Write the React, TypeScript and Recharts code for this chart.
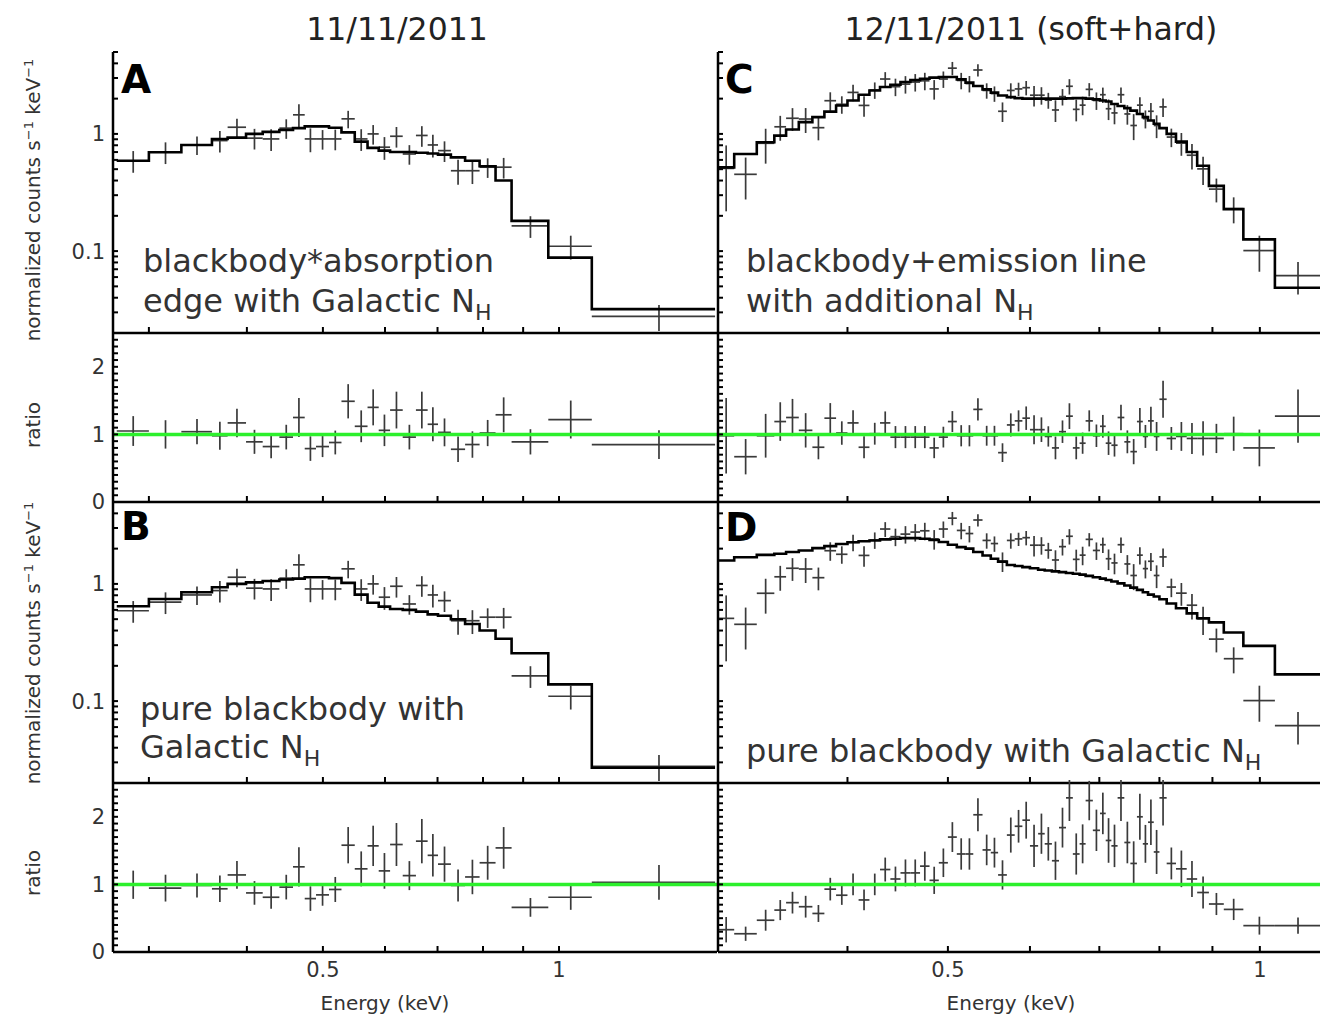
import React from "react";
import { ComposedChart, Scatter, Line, XAxis, YAxis, ErrorBar } from "recharts";

// ---- 11/11/2011 observation (panels A, B) ----
// bin edges in keV, data in normalized counts s^-1 keV^-1, relative errors
const edges1111 = [0.273, 0.3, 0.33, 0.361, 0.378, 0.399, 0.419, 0.44, 0.458, 0.474, 0.49, 0.509, 0.528, 0.549, 0.57, 0.589, 0.609, 0.632, 0.657, 0.68, 0.701, 0.728, 0.759, 0.792, 0.83, 0.87, 0.969, 1.101, 1.581];
const counts1111 = [0.59, 0.7, 0.805, 0.877, 1.14, 0.92, 0.906, 1.12, 1.455, 0.906, 0.906, 0.906, 1.345, 0.906, 1.0, 0.77, 0.955, 0.674, 0.97, 0.805, 0.72, 0.485, 0.485, 0.52, 0.52, 0.164, 0.11, 0.0277];
const relErr1111 = [0.21, 0.21, 0.18, 0.21, 0.18, 0.2, 0.21, 0.19, 0.23, 0.23, 0.19, 0.2, 0.17, 0.21, 0.19, 0.22, 0.2, 0.19, 0.2, 0.22, 0.2, 0.24, 0.23, 0.19, 0.2, 0.21, 0.23, 0.25];
const modelA = [0.59, 0.697, 0.805, 0.906, 0.93, 1.0, 1.04, 1.08, 1.12, 1.16, 1.16, 1.13, 1.03, 0.86, 0.76, 0.72, 0.7, 0.7, 0.69, 0.68, 0.665, 0.63, 0.59, 0.53, 0.4, 0.181, 0.088, 0.032];
const ratioA = [1.05, 1.0, 1.04, 0.98, 1.17, 0.89, 0.82, 0.96, 1.25, 0.79, 0.82, 0.88, 1.49, 1.12, 1.4, 1.06, 1.36, 0.96, 1.36, 1.15, 1.03, 0.78, 0.85, 1.02, 1.29, 0.89, 1.22, 0.85];
const modelB = [0.644, 0.744, 0.849, 0.937, 1.0, 1.03, 1.06, 1.09, 1.11, 1.14, 1.14, 1.12, 1.02, 0.81, 0.69, 0.64, 0.61, 0.6, 0.58, 0.55, 0.535, 0.5, 0.455, 0.4, 0.34, 0.256, 0.139, 0.027];
const ratioB = [0.995, 0.945, 0.985, 0.935, 1.14, 0.874, 0.81, 0.96, 1.26, 0.79, 0.845, 0.925, 1.58, 1.23, 1.57, 1.2, 1.59, 1.13, 1.64, 1.43, 1.3, 0.985, 1.11, 1.32, 1.54, 0.66, 0.81, 1.03];

// ---- 12/11/2011 observation (panels C, D) ----
const edges1211 = [0.3, 0.311, 0.327, 0.34, 0.349, 0.359, 0.37, 0.38, 0.39, 0.4, 0.41, 0.42, 0.43, 0.44, 0.45, 0.46, 0.47, 0.48, 0.49, 0.5, 0.51, 0.52, 0.529, 0.54, 0.55, 0.559, 0.57, 0.58, 0.59, 0.6, 0.611, 0.62, 0.63, 0.64, 0.65, 0.66, 0.67, 0.679, 0.69, 0.701, 0.71, 0.719, 0.729, 0.74, 0.75, 0.761, 0.771, 0.78, 0.79, 0.8, 0.813, 0.83, 0.85, 0.87, 0.893, 0.923, 0.964, 1.034, 1.143];
const counts1211 = [0.508, 0.452, 0.832, 1.15, 1.36, 1.34, 1.13, 1.92, 1.79, 2.26, 1.75, 2.37, 2.94, 2.53, 2.66, 2.77, 2.84, 2.42, 2.94, 3.64, 2.86, 2.69, 3.51, 2.35, 2.21, 1.56, 2.35, 2.42, 2.48, 2.14, 2.14, 1.94, 1.6, 2.08, 2.55, 1.62, 1.76, 2.4, 1.93, 2.16, 1.64, 1.51, 2.16, 1.48, 1.18, 1.76, 1.35, 1.56, 1.18, 1.7, 0.94, 0.834, 0.658, 0.503, 0.338, 0.23, 0.101, 0.0617];
const relErr1211 = [0.57, 0.39, 0.33, 0.24, 0.22, 0.24, 0.22, 0.18, 0.17, 0.16, 0.2, 0.16, 0.145, 0.17, 0.17, 0.17, 0.17, 0.19, 0.16, 0.13, 0.16, 0.16, 0.12, 0.15, 0.15, 0.19, 0.15, 0.13, 0.14, 0.2, 0.17, 0.155, 0.21, 0.16, 0.15, 0.21, 0.18, 0.13, 0.17, 0.15, 0.2, 0.2, 0.15, 0.19, 0.25, 0.17, 0.175, 0.175, 0.22, 0.18, 0.18, 0.22, 0.245, 0.27, 0.23, 0.25, 0.34, 0.31];
const modelC = [0.518, 0.674, 0.849, 0.967, 1.09, 1.26, 1.39, 1.55, 1.75, 1.93, 2.16, 2.35, 2.51, 2.63, 2.77, 2.88, 2.96, 3.02, 3.06, 3.06, 2.92, 2.74, 2.56, 2.4, 2.25, 2.13, 2.06, 2.02, 2.0, 2.0, 2.0, 2.0, 2.0, 2.0, 2.01, 2.02, 2.02, 2.0, 1.97, 1.93, 1.89, 1.8, 1.73, 1.66, 1.58, 1.48, 1.39, 1.3, 1.22, 1.12, 1.0, 0.86, 0.7, 0.535, 0.36, 0.228, 0.126, 0.0486];
const ratioC = [0.98, 0.67, 0.98, 1.19, 1.25, 1.06, 0.81, 1.24, 1.02, 1.17, 0.81, 1.01, 1.17, 0.96, 0.96, 0.96, 0.96, 0.8, 0.96, 1.19, 0.98, 0.98, 1.37, 0.98, 0.98, 0.73, 1.14, 1.2, 1.24, 1.07, 1.07, 0.97, 0.8, 1.04, 1.27, 0.8, 0.87, 1.2, 0.98, 1.12, 0.87, 0.84, 1.25, 0.89, 0.745, 1.19, 0.97, 1.2, 0.97, 1.52, 0.94, 0.97, 0.94, 0.94, 0.94, 1.01, 0.8, 1.27];
const modelD = [1.585, 1.69, 1.77, 1.81, 1.87, 1.93, 2.02, 2.1, 2.19, 2.27, 2.31, 2.35, 2.4, 2.43, 2.46, 2.46, 2.43, 2.37, 2.28, 2.16, 2.06, 2.0, 1.87, 1.75, 1.64, 1.55, 1.45, 1.42, 1.39, 1.36, 1.32, 1.3, 1.28, 1.26, 1.24, 1.22, 1.2, 1.17, 1.14, 1.11, 1.08, 1.05, 1.01, 0.97, 0.93, 0.89, 0.85, 0.81, 0.78, 0.74, 0.68, 0.62, 0.56, 0.51, 0.47, 0.385, 0.296, 0.169];
const ratioD = [0.33, 0.27, 0.47, 0.62, 0.73, 0.67, 0.57, 0.93, 0.84, 1.0, 0.77, 1.0, 1.22, 1.08, 1.17, 1.17, 1.27, 1.06, 1.32, 1.7, 1.45, 1.45, 2.03, 1.51, 1.47, 1.14, 1.73, 1.86, 1.95, 1.57, 1.75, 1.6, 1.35, 1.84, 2.28, 1.45, 1.6, 2.24, 1.8, 2.05, 1.65, 1.57, 2.28, 1.62, 1.31, 2.0, 1.6, 1.92, 1.48, 2.28, 1.31, 1.23, 1.08, 0.88, 0.71, 0.63, 0.39, 0.39];

// ---- axes ----
const xDomain1111 = [0.27, 1.59];
const xDomain1211 = [0.3, 1.143];
const energyTicks = [0.3, 0.4, 0.5, 0.6, 0.7, 0.8, 0.9, 1];
const energyLabels = [0.5, 1];
const countTicks = [0.02, 0.03, 0.04, 0.05, 0.06, 0.07, 0.08, 0.09, 0.1, 0.2, 0.3, 0.4, 0.5, 0.6, 0.7, 0.8, 0.9, 1, 2, 3, 4, 5];
const countLabels = [0.1, 1];
const ratioTicks = [0, 0.1, 0.2, 0.3, 0.4, 0.5, 0.6, 0.7, 0.8, 0.9, 1, 1.1, 1.2, 1.3, 1.4, 1.5, 1.6, 1.7, 1.8, 1.9, 2, 2.1, 2.2, 2.3, 2.4, 2.5];
const ratioLabels = [0, 1, 2];

const FONT = "DejaVu Sans";

function toPoints(edges: number[], vals: number[], rel: number[]) {
  return vals.map((v, i) => {
    const lo = edges[i];
    const hi = edges[i + 1];
    const x = (lo + hi) / 2;
    return { x, y: v, ex: [x - lo, hi - x], ey: v * rel[i] };
  });
}

function toSteps(edges: number[], vals: number[]) {
  const pts = vals.map((v, i) => ({ x: edges[i], y: v }));
  pts.push({ x: edges[edges.length - 1], y: vals[vals.length - 1] });
  return pts;
}

const noMark = () => <g />;

type PanelProps = {
  left: number;
  top: number;
  w: number;
  h: number;
  xDomain: number[];
  showX?: boolean;
  ratio?: boolean;
  showY?: boolean;
  points: any[];
  line: any[];
};

function Panel({ left, top, w, h, xDomain, showX, ratio, showY, points, line }: PanelProps) {
  const YW = 60;
  const XH = 40;
  const M = 3;
  const yTicks = ratio ? ratioTicks : countTicks;
  const yLab = ratio ? ratioLabels : countLabels;
  const yDomain = ratio ? [0, 2.5] : [0.02, 5];
  const yScale = ratio ? "linear" : "log";
  const axisLine = { stroke: "#000", strokeWidth: 2.5 };
  const tickLine = { stroke: "#000", strokeWidth: 2 };
  const tick = { fill: "#333", fontSize: 21, fontFamily: FONT };
  return (
    <div style={{ position: "absolute", left: left - YW, top: top - M }}>
      <ComposedChart width={w + YW + M} height={h + XH + M} margin={{ top: M, right: M, bottom: 0, left: 0 }}>
        <XAxis xAxisId="b" dataKey="x" type="number" scale="log" domain={xDomain} allowDataOverflow
          ticks={energyTicks} interval={0} height={XH} tickSize={-6} tickMargin={16}
          tickFormatter={(v: number) => (showX && energyLabels.includes(v) ? String(v) : "")}
          axisLine={axisLine} tickLine={tickLine} tick={tick} />
        <XAxis xAxisId="t" dataKey="x" orientation="top" type="number" scale="log" domain={xDomain} allowDataOverflow
          ticks={energyTicks} interval={0} height={0} tickSize={-6} tickFormatter={() => ""}
          axisLine={axisLine} tickLine={tickLine} tick={tick} />
        <YAxis yAxisId="l" dataKey="y" type="number" scale={yScale} domain={yDomain} allowDataOverflow
          ticks={yTicks} interval={0} width={YW} tickSize={-5} tickMargin={13}
          tickFormatter={(v: number) => (showY && yLab.includes(v) ? String(v) : "")}
          axisLine={axisLine} tickLine={tickLine} tick={tick} />
        <YAxis yAxisId="r" dataKey="y" orientation="right" type="number" scale={yScale} domain={yDomain} allowDataOverflow
          ticks={yTicks} interval={0} width={0} tickSize={-5} tickFormatter={() => ""}
          axisLine={axisLine} tickLine={tickLine} tick={tick} />
        <Scatter xAxisId="b" yAxisId="l" data={points} dataKey="y" shape={noMark} isAnimationActive={false}>
          <ErrorBar dataKey="ex" direction="x" width={0} stroke="#3a3a3a" strokeWidth={1.7} isAnimationActive={false} />
          <ErrorBar dataKey="ey" direction="y" width={0} stroke="#3a3a3a" strokeWidth={1.7} isAnimationActive={false} />
        </Scatter>
        <Line xAxisId="t" yAxisId="r" data={line} dataKey="y" type={ratio ? "linear" : "stepAfter"}
          stroke={ratio ? "#2cf02c" : "#000"} strokeWidth={ratio ? 3.5 : 2.6} dot={false} activeDot={false}
          isAnimationActive={false} />
      </ComposedChart>
    </div>
  );
}

function NH({ x, y, pre }: { x: number; y: number; pre: string }) {
  return (
    <text x={x} y={y} fontSize={32} fill="#333" fontFamily={FONT}>
      {pre}N<tspan dy={8} fontSize={22}>H</tspan>
    </text>
  );
}

export default function App() {
  const data1111 = toPoints(edges1111, counts1111, relErr1111);
  const data1211 = toPoints(edges1211, counts1211, relErr1211);
  const unity1111 = [{ x: xDomain1111[0], y: 1 }, { x: xDomain1111[1], y: 1 }];
  const unity1211 = [{ x: xDomain1211[0], y: 1 }, { x: xDomain1211[1], y: 1 }];

  const L = 113, LW = 604, R = 718, RW = 602;
  const rows = { a: 52, ar: 333, b: 502, br: 783 };
  const SH = 281, RH = 169;

  const ylab = (y: number, content: React.ReactNode) => (
    <text x={40} y={y} transform={`rotate(-90 40 ${y})`} textAnchor="middle" fontSize={20} fill="#333" fontFamily={FONT}>
      {content}
    </text>
  );
  const counts = (
    <>
      normalized counts s<tspan dy={-7} fontSize={13}>−1</tspan>
      <tspan dy={7}> keV</tspan>
      <tspan dy={-7} fontSize={13}>−1</tspan>
    </>
  );

  return (
    <div style={{ position: "absolute", left: 0, top: 0, width: 1323, height: 1021, background: "#fff" }}>
      <Panel left={L} top={rows.a} w={LW} h={SH} xDomain={xDomain1111} showY points={data1111} line={toSteps(edges1111, modelA)} />
      <Panel left={L} top={rows.ar} w={LW} h={RH} xDomain={xDomain1111} ratio showY
        points={toPoints(edges1111, ratioA, relErr1111)} line={unity1111} />
      <Panel left={L} top={rows.b} w={LW} h={SH} xDomain={xDomain1111} showY points={data1111} line={toSteps(edges1111, modelB)} />
      <Panel left={L} top={rows.br} w={LW} h={RH} xDomain={xDomain1111} ratio showY showX
        points={toPoints(edges1111, ratioB, relErr1111)} line={unity1111} />

      <Panel left={R} top={rows.a} w={RW} h={SH} xDomain={xDomain1211} points={data1211} line={toSteps(edges1211, modelC)} />
      <Panel left={R} top={rows.ar} w={RW} h={RH} xDomain={xDomain1211} ratio
        points={toPoints(edges1211, ratioC, relErr1211)} line={unity1211} />
      <Panel left={R} top={rows.b} w={RW} h={SH} xDomain={xDomain1211} points={data1211} line={toSteps(edges1211, modelD)} />
      <Panel left={R} top={rows.br} w={RW} h={RH} xDomain={xDomain1211} ratio showX
        points={toPoints(edges1211, ratioD, relErr1211)} line={unity1211} />

      <svg width={1323} height={1021} style={{ position: "absolute", left: 0, top: 0, pointerEvents: "none" }}>
        <text x={397} y={40} textAnchor="middle" fontSize={31.5} fill="#222" fontFamily={FONT}>11/11/2011</text>
        <text x={1031} y={40} textAnchor="middle" fontSize={31.5} fill="#222" fontFamily={FONT}>12/11/2011 (soft+hard)</text>

        <text x={121} y={93} fontSize={39} fontWeight="bold" fill="#000" fontFamily={FONT}>A</text>
        <text x={121} y={540} fontSize={39} fontWeight="bold" fill="#000" fontFamily={FONT}>B</text>
        <text x={725} y={93} fontSize={39} fontWeight="bold" fill="#000" fontFamily={FONT}>C</text>
        <text x={725} y={541} fontSize={39} fontWeight="bold" fill="#000" fontFamily={FONT}>D</text>

        <text x={143} y={272} fontSize={32} fill="#333" fontFamily={FONT}>blackbody*absorption</text>
        <NH x={143} y={312} pre="edge with Galactic " />
        <text x={140} y={720} fontSize={32} fill="#333" fontFamily={FONT}>pure blackbody with</text>
        <NH x={140} y={758} pre="Galactic " />
        <text x={746} y={272} fontSize={32} fill="#333" fontFamily={FONT}>blackbody+emission line</text>
        <NH x={746} y={312} pre="with additional " />
        <NH x={746} y={762} pre="pure blackbody with Galactic " />

        {ylab(200, counts)}
        {ylab(425, "ratio")}
        {ylab(643, counts)}
        {ylab(873, "ratio")}

        <text x={385} y={1010} textAnchor="middle" fontSize={20} fill="#333" fontFamily={FONT}>Energy (keV)</text>
        <text x={1011} y={1010} textAnchor="middle" fontSize={20} fill="#333" fontFamily={FONT}>Energy (keV)</text>
      </svg>
    </div>
  );
}
